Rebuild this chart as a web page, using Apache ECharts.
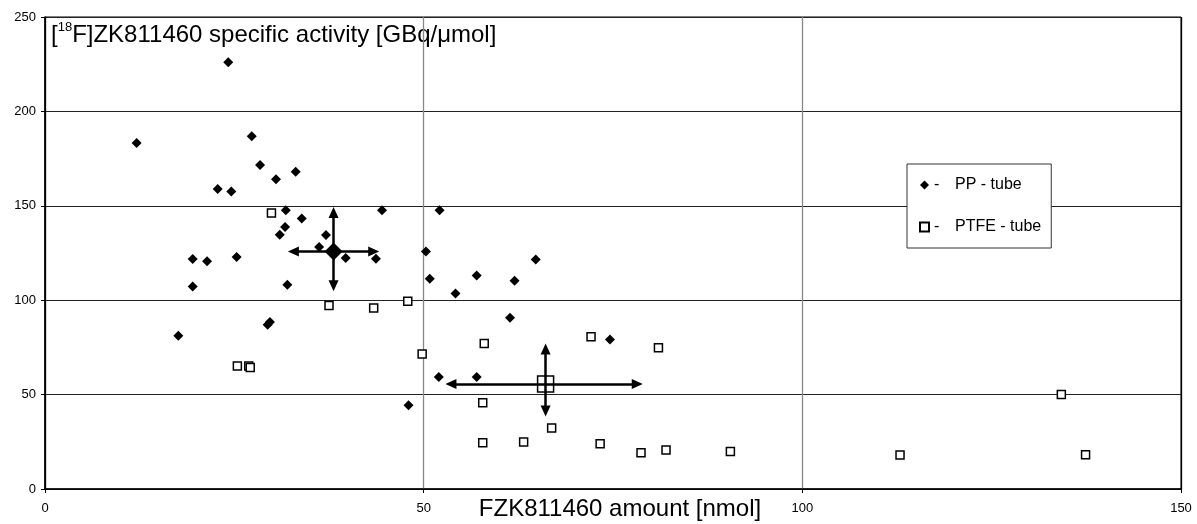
<!DOCTYPE html>
<html>
<head>
<meta charset="utf-8">
<script src="https://cdn.jsdelivr.net/npm/echarts@6/dist/echarts.min.js"></script>
<style>
html,body{margin:0;padding:0;background:#fff;}
#chart{width:1197px;height:524px;}
</style>
</head>
<body>
<div id="chart"></div>
<script>
// ---- data ----
const seriesNames = ['PP - tube', 'PTFE - tube'];
const ppPoints = [
  [12.1,183.3],[24.2,226.0],[27.3,186.8],[28.4,171.6],[30.5,164.0],[33.1,168.1],
  [22.8,158.9],[24.6,157.6],[31.8,147.6],[33.9,143.3],[31.7,138.8],[31.0,134.7],
  [37.1,134.5],[36.2,128.2],[44.5,147.6],[52.1,147.6],[50.3,125.8],[19.5,121.8],
  [21.4,120.6],[25.3,122.9],[39.7,122.4],[43.7,122.0],[19.5,107.3],[32.0,108.2],
  [17.6,81.2],[29.4,87.0],[29.7,88.5],[48.0,44.3],[50.8,111.4],[52.0,59.3],
  [54.2,103.6],[57.0,113.1],[62.0,110.3],[64.8,121.5],[61.4,90.7],[74.6,79.2],
  [57.0,59.3]
];
const ptfePoints = [
  [29.9,146.2],[37.5,97.2],[43.4,95.9],[47.9,99.4],[49.8,71.5],[25.4,65.1],
  [26.9,65.1],[27.1,64.4],[58.0,77.0],[72.1,80.7],[81.0,74.8],[57.8,45.7],
  [66.9,32.3],[57.8,24.5],[63.2,24.9],[73.3,24.0],[78.7,19.2],[82.0,20.7],
  [90.5,19.9],[134.2,50.1],[112.9,18.0],[137.4,18.2]
];
// mean and spread: x (minus, plus), y (minus, plus) to the base of each arrow head
const ppMean = [38.1, 125.8];
const ppSpreadX = [5.3, 5.3];
const ppSpreadY = [18.2, 20.7];
const ptfeMean = [66.1, 55.6];
const ptfeSpreadX = [12.5, 12.1];
const ptfeSpreadY = [14.3, 18.5];
const xTicks = [0, 50, 100, 150];
const yTicks = [0, 50, 100, 150, 200, 250];
const xTitle = 'FZK811460 amount [nmol]';
const yTitleParts = ['[', '18', 'F]ZK811460 specific activity [GBq/\u03bcmol]'];

const FONT = '"Liberation Sans", Arial, sans-serif';

function crossLines(mean, sx, sy) {
  return [
    [{coord: [mean[0] - sx[0], mean[1]]}, {coord: [mean[0] + sx[1], mean[1]]}],
    [{coord: [mean[0], mean[1] - sy[0]]}, {coord: [mean[0], mean[1] + sy[1]]}]
  ];
}

function markLineOf(mean, sx, sy) {
  return {
    silent: true,
    animation: false,
    symbol: ['triangle', 'triangle'],
    symbolSize: [10, 11],
    label: {show: false},
    lineStyle: {color: '#000', width: 2.5, type: 'solid', opacity: 1},
    itemStyle: {color: '#000'},
    emphasis: {disabled: true},
    data: crossLines(mean, sx, sy)
  };
}

const chart = echarts.init(document.getElementById('chart'), null, {renderer: 'canvas'});
const option = {
  animation: false,
  backgroundColor: '#fff',
  textStyle: {fontFamily: FONT},
  grid: {
    left: 45, right: 16, top: 17, bottom: 35,
    outerBoundsMode: 'none',
    containLabel: false,
    show: true, borderColor: '#000', borderWidth: 1, backgroundColor: 'transparent'
  },
  xAxis: {
    type: 'value',
    min: xTicks[0], max: xTicks[xTicks.length - 1], interval: 50,
    name: xTitle,
    nameLocation: 'middle',
    nameGap: 8,
    nameMoveOverlap: false,
    nameTextStyle: {fontSize: 24, color: '#000', fontFamily: FONT, padding: [0, 0, 0, 14]},
    axisLine: {show: true, lineStyle: {color: '#000', width: 1.5}},
    axisTick: {show: true, length: 4, lineStyle: {color: '#000'}},
    axisLabel: {fontSize: 13, color: '#000', margin: 13, fontFamily: FONT},
    splitLine: {show: true, lineStyle: {color: ['#000', '#888', '#888', '#000'], width: 1.3}}
  },
  yAxis: {
    type: 'value',
    min: yTicks[0], max: yTicks[yTicks.length - 1], interval: 50,
    axisLine: {show: true, lineStyle: {color: '#000', width: 1.5}},
    axisTick: {show: true, length: 4, lineStyle: {color: '#000'}},
    axisLabel: {fontSize: 13, color: '#000', margin: 9, fontFamily: FONT},
    splitLine: {show: true, lineStyle: {color: '#222', width: 1}}
  },
  legend: {
    orient: 'vertical',
    left: 907, top: 164,
    data: seriesNames,
    backgroundColor: '#fff',
    borderColor: '#333',
    borderWidth: 1,
    padding: [13, 10, 13, 12],
    itemGap: 26,
    itemWidth: 9,
    itemHeight: 9,
    selectedMode: false,
    formatter: name => '{d|-}{n|' + name + '}',
    textStyle: {
      fontFamily: FONT, fontSize: 16, color: '#000',
      rich: {
        d: {fontSize: 16, width: 21, fontFamily: FONT, color: '#000'},
        n: {fontSize: 16, fontFamily: FONT, color: '#000'}
      }
    }
  },
  graphic: [{
    type: 'text',
    left: 51, top: 21,
    silent: true,
    style: {
      text: '{m|' + yTitleParts[0] + '}{s|' + yTitleParts[1] + '}{m|' + yTitleParts[2] + '}',
      rich: {
        m: {fontSize: 24, fontFamily: FONT, fill: '#000', lineHeight: 26, verticalAlign: 'bottom'},
        s: {fontSize: 13, fontFamily: FONT, fill: '#000', lineHeight: 26, verticalAlign: 'top'}
      }
    }
  }],
  series: [
    {
      name: seriesNames[0],
      type: 'scatter',
      symbol: 'diamond',
      symbolSize: 10,
      itemStyle: {color: '#000', opacity: 1},
      data: ppPoints,
      z: 3
    },
    {
      name: seriesNames[1],
      type: 'scatter',
      symbol: 'rect',
      symbolSize: 8,
      itemStyle: {color: '#fff', borderColor: '#000', borderWidth: 1.5, opacity: 1},
      data: ptfePoints,
      z: 3
    },
    {
      name: 'PP mean',
      type: 'scatter',
      symbol: 'diamond',
      symbolSize: 18,
      itemStyle: {color: '#000', opacity: 1},
      data: [ppMean],
      z: 5,
      markLine: markLineOf(ppMean, ppSpreadX, ppSpreadY)
    },
    {
      name: 'PTFE mean',
      type: 'scatter',
      symbol: 'rect',
      symbolSize: 16,
      itemStyle: {color: 'rgba(255,255,255,0)', borderColor: '#000', borderWidth: 1.5, opacity: 1},
      data: [ptfeMean],
      z: 5,
      markLine: markLineOf(ptfeMean, ptfeSpreadX, ptfeSpreadY)
    }
  ]
};
chart.setOption(option);
</script>
</body>
</html>
